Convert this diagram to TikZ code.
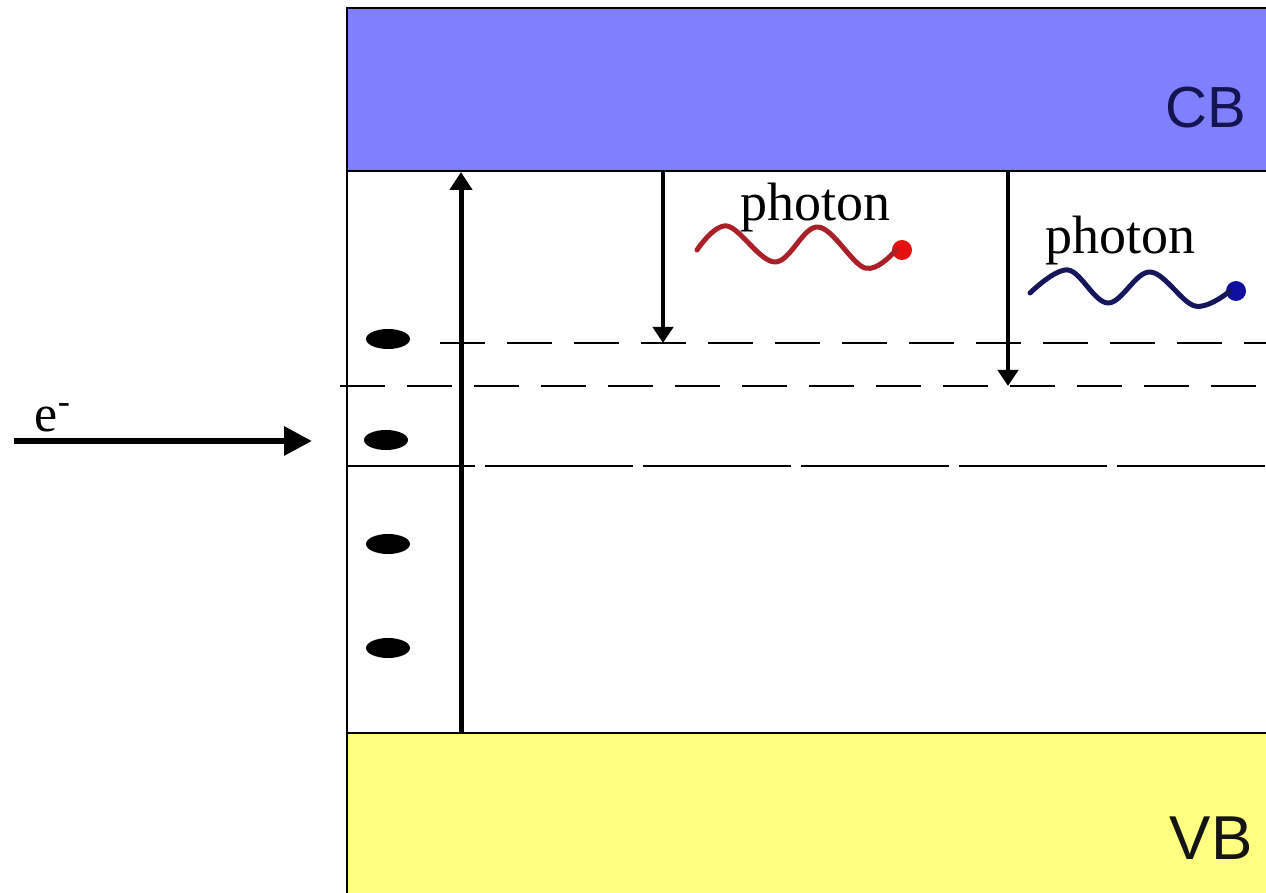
\documentclass[tikz,border=0pt]{standalone}
\usepackage{fontspec}
\setmainfont{Liberation Serif}
\newfontfamily\arialf{Liberation Sans}
\usetikzlibrary{arrows.meta,shapes.geometric}
\definecolor{cbfill}{RGB}{128,128,255}
\definecolor{vbfill}{RGB}{255,255,128}
\definecolor{cbtext}{RGB}{20,20,80}
\definecolor{vbtext}{RGB}{20,20,20}
\definecolor{redwave}{RGB}{170,32,40}
\definecolor{reddot}{RGB}{230,16,16}
\definecolor{bluewave}{RGB}{22,22,90}
\definecolor{bluedot}{RGB}{16,16,160}
\tikzset{
  boxline/.style={line width=1pt, black},
  level/.style={line width=1pt, black, dash pattern=on 22.5pt off 11pt},
  gapline/.style={line width=1pt, black, dash pattern=on 74pt off 5pt, dash phase=10pt},
  bigarrow/.style={line width=2.5pt, -{Triangle[length=9pt,width=11pt]}},
  thinarrow/.style={line width=2pt, -{Triangle[length=8pt,width=10pt]}},
  earrow/.style={line width=3pt, -{Triangle[length=14pt,width=14pt]}},
  electron/.style={ellipse, fill=black, minimum width=22pt, minimum height=10pt, inner sep=0pt},
  wave/.style={line width=2.5pt, line join=round, line cap=round},
  photondot/.style={circle, minimum size=10pt, inner sep=0pt},
  photonlabel/.style={font=\fontsize{27}{30}\selectfont, inner sep=0pt},
  bandlabel/.style={font=\arialf\fontsize{31}{34}\selectfont, inner sep=0pt}
}
\begin{document}
\begin{tikzpicture}[x=0.5pt,y=-0.5pt]
\useasboundingbox (0,0) rectangle (1266,893);
% bands
\fill[cbfill] (347,8) rectangle (1266,171);
\fill[vbfill] (347,733) rectangle (1266,893);
\draw[boxline] (1266,8) -- (347,8) -- (347,893);
\draw[boxline] (347,171) -- (1266,171);
\draw[boxline] (347,733) -- (1266,733);
\node[bandlabel, text=cbtext, font=\arialf\fontsize{29}{32}\selectfont] (cb) at (1206,108) {CB};
\node[bandlabel, text=vbtext] (vb) at (1211,838) {VB};
% levels
\coordinate (l1a) at (440,343); \coordinate (l1b) at (1266,343);
\coordinate (l2a) at (340,386); \coordinate (l2b) at (1266,386);
\coordinate (l3a) at (347,466); \coordinate (l3b) at (1266,466);
\draw[level] (l1a) -- (l1b);
\draw[level] (l2a) -- (l2b);
\draw[gapline] (l3a) -- (l3b);
% electrons
\node[electron] (d1) at (388,339) {};
\node[electron] (d2) at (386,440) {};
\node[electron] (d3) at (388,544) {};
\node[electron] (d4) at (388,648) {};
% excitation arrow
\coordinate (exb) at (461,733); \coordinate (ext) at (461,172);
\draw[bigarrow] (exb) -- (ext);
% relaxation arrows
\coordinate (r1t) at (663,171); \coordinate (r1b) at (663,343);
\coordinate (r2t) at (1008,171); \coordinate (r2b) at (1008,386);
\draw[thinarrow] (r1t) -- (r1b);
\draw[thinarrow] (r2t) -- (r2b);
% incoming electron
\coordinate (ein) at (14,441); \coordinate (eout) at (312,441);
\draw[earrow] (ein) -- (eout);
\node[font=\fontsize{26}{28}\selectfont, inner sep=0pt] (elab) at (53,418) {e\textsuperscript{-}};
% photon 1
\node[photonlabel] (p1) at (815,208) {photon};
\node[photondot, fill=reddot] (p1dot) at (902,250) {};
\draw[wave, redwave] plot[smooth, tension=0.6] coordinates {(697,250) (727,226) (775,262) (818,227) (865,268) (896,250)};
% photon 2
\node[photonlabel] (p2) at (1120,241) {photon};
\node[photondot, fill=bluedot] (p2dot) at (1236,291) {};
\draw[wave, bluewave] plot[smooth, tension=0.6] coordinates {(1030,293) (1068,270) (1108,303) (1150,272) (1195,306) (1230,291)};
\end{tikzpicture}
\end{document}
